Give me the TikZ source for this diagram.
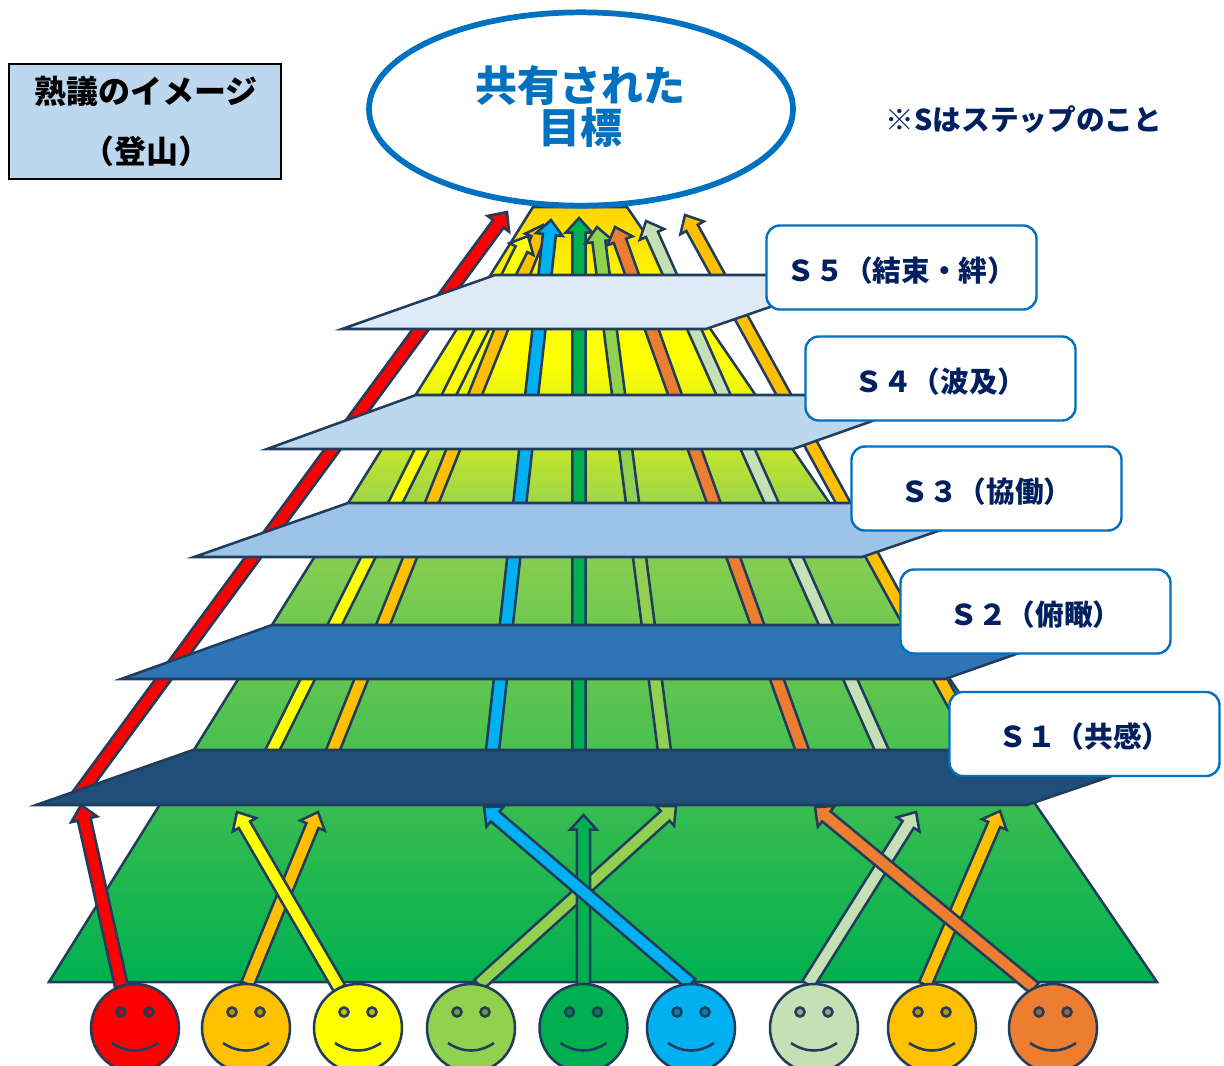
\documentclass[tikz,border=0pt]{standalone}
\usepackage{fontspec}
\usetikzlibrary{calc,shapes.geometric}
\newfontfamily\jp{Noto Sans CJK JP}
\definecolor{cred}{HTML}{FF0000}
\definecolor{cgold}{HTML}{FFC000}
\definecolor{cyel}{HTML}{FFFF00}
\definecolor{clg}{HTML}{92D050}
\definecolor{cdg}{HTML}{00B050}
\definecolor{cblue}{HTML}{00B0F0}
\definecolor{cpale}{HTML}{C5E0B4}
\definecolor{corg}{HTML}{ED7D31}
\definecolor{lc}{HTML}{213D5E}
\definecolor{cbord}{HTML}{0070C0}
\definecolor{cnavy}{HTML}{002060}
\definecolor{mA}{HTML}{00B050}
\definecolor{mB}{HTML}{92D050}
\definecolor{mC}{HTML}{FFFF00}
\definecolor{mD}{HTML}{FFD500}
\definecolor{pA}{HTML}{1F4E79}
\definecolor{pB}{HTML}{2E75B6}
\definecolor{pC}{HTML}{9DC3E6}
\definecolor{pD}{HTML}{BDD7EE}
\definecolor{pE}{HTML}{DEEAF6}
\pgfdeclareverticalshading{mount}{100bp}{color(0bp)=(mA); color(25bp)=(mA); color(54.8bp)=(mB); color(65bp)=(mC); color(69bp)=(mC); color(75bp)=(mD); color(100bp)=(mD)}
\pgfdeclarelayer{front}
\pgfsetlayers{main,front}
\newcommand\blockarrow[6]{%
  \coordinate (bh) at ($(#2)!#6!(#1)$);
  \draw[arrowline,fill=#3] ($(#1)!#4!90:(#2)$) -- ($(bh)!#4!90:(#2)$) -- ($(bh)!#5!90:(#2)$) -- (#2)
    -- ($(bh)!#5!-90:(#2)$) -- ($(bh)!#4!-90:(#2)$) -- ($(#1)!#4!-90:(#2)$) -- cycle;}
\newcommand\uparr[3]{\blockarrow{#1}{#2}{#3}{4.9pt}{10pt}{11pt}}
\newcommand\steptext[1]{\raisebox{-10.2pt}[0pt][0pt]{#1}}
\tikzset{
  arrowline/.style={draw=lc,line width=1.9pt,line join=miter},
  layerbox/.style={draw=lc,line width=1.9pt,line join=miter},
  face/.style={circle,draw=lc,line width=1.9pt,minimum size=66pt,inner sep=0pt,outer sep=0pt},
  stepbox/.style={draw=cbord,line width=1.8pt,fill=white,rounded corners=10pt,minimum width=202.5pt,minimum height=63pt,inner sep=0pt,font=\jp\bfseries\fontsize{21.5}{24}\selectfont,text=cnavy},
}
\begin{document}
\begin{tikzpicture}[x=0.75pt,y=-0.75pt]
\clip (0,0) rectangle (1224,1065);
% mountain
\draw[draw=lc,line width=1.9pt,shading=mount,line join=miter] (49,982) -- (533,207) -- (627,207) -- (1157,982) -- cycle;
% faces
\begin{pgfonlayer}{front}
\foreach \n/\x/\c in {f1/135/cred,f2/246/cgold,f3/358/cyel,f4/471/clg,f5/583.5/cdg,f6/691/cblue,f7/814/cpale,f8/932/cgold,f9/1053/corg}{
  \node[face,fill=\c] (\n) at (\x,1028) {};
  \draw[lc,line width=1.9pt,fill=\c!75!black] (\x-14,1012) circle[radius=3.4pt];
  \draw[lc,line width=1.9pt,fill=\c!75!black] (\x+14,1012) circle[radius=3.4pt];
  \draw[lc,line width=1.9pt] (\x-23,1043) .. controls (\x-8,1053) and (\x+8,1053) .. (\x+23,1043);
}
\end{pgfonlayer}
% lower arrows
\coordinate (t1) at (81,805);
\coordinate (t2) at (318,812);
\coordinate (t3) at (237,812);
\coordinate (t4) at (676,806);
\coordinate (t5) at (583.5,815);
\coordinate (t6) at (484,807);
\coordinate (t7) at (916,812);
\coordinate (t8) at (1000,811);
\coordinate (t9) at (815,807);
\uparr{f1.108}{t1}{cred}
\uparr{f2.88}{t2}{cgold}
\uparr{f3.115}{t3}{cyel}
\uparr{f4.80}{t4}{clg}
\uparr{f5.90}{t5}{cdg}
\uparr{f6.90}{t6}{cblue}
\uparr{f7.98}{t7}{cpale}
\uparr{f8.99}{t8}{cgold}
\uparr{f9.115}{t9}{corg}
% upper arrows
\coordinate (a1) at (74,801);   \coordinate (b1) at (507,212);
\coordinate (a2) at (270,755);  \coordinate (b2) at (528,236);
\coordinate (a3) at (331,755);  \coordinate (b3) at (543,225);
\coordinate (a4) at (492,755);  \coordinate (b4) at (551,220);
\coordinate (a5) at (579,755);  \coordinate (b5) at (579,218);
\coordinate (a6) at (665,755);  \coordinate (b6) at (597,227);
\coordinate (a7) at (804,755);  \coordinate (b7) at (615,227);
\coordinate (a8) at (884,755);  \coordinate (b8) at (646,221);
\coordinate (a9) at (979,750);  \coordinate (b9) at (685,215);
\uparr{a9}{b9}{cgold}
\uparr{a8}{b8}{cpale}
\uparr{a5}{b5}{cdg}
\uparr{a6}{b6}{clg}
\uparr{a7}{b7}{corg}
\uparr{a3}{b3}{cgold}
\uparr{a2}{b2}{cyel}
\uparr{a4}{b4}{cblue}
\uparr{a1}{b1}{cred}
% step planes
\draw[layerbox,fill=pA] (36,805) -- (193,750) -- (1188,750) -- (1027,805) -- cycle;
\draw[layerbox,fill=pB] (121,679) -- (272,625) -- (1099,625) -- (945,679) -- cycle;
\draw[layerbox,fill=pC] (194,557) -- (348,503) -- (1020,503) -- (862,557) -- cycle;
\draw[layerbox,fill=pD] (267,449) -- (416,395) -- (946,395) -- (793,449) -- cycle;
\draw[layerbox,fill=pE] (342,329) -- (495,275) -- (863,275) -- (706,329) -- cycle;
% labels
\node[stepbox] (s5) at (901.5,267.5) {\steptext{Ｓ５（結束・絆）}};
\node[stepbox] (s4) at (940.5,378.5) {\steptext{Ｓ４（波及）}};
\node[stepbox] (s3) at (986.5,488.5) {\steptext{Ｓ３（協働）}};
\node[stepbox] (s2) at (1035.5,611.5) {\steptext{Ｓ２（俯瞰）}};
\node[stepbox] (s1) at (1084.5,734) {\steptext{Ｓ１（共感）}};
% goal
\node[ellipse,draw=cbord,line width=4.3pt,fill=white,minimum width=318pt,minimum height=145pt,inner sep=0pt,outer sep=0pt] (goal) at (581,109) {};
\node[inner sep=0pt,text=cbord,font=\jp\bfseries\fontsize{31.5}{31.5}\selectfont,align=center] (goaltext) at (580,107) {共有された\\目標};
% title
\node[draw=black,line width=1.5pt,fill=pD,minimum width=204pt,minimum height=86pt,inner sep=0pt] (title) at (145,121.5) {};
\node[inner sep=0pt,font=\jp\bfseries\fontsize{24}{24}\selectfont] (t1text) at (146,91) {熟議のイメージ};
\node[inner sep=0pt,font=\jp\bfseries\fontsize{24}{24}\selectfont] (t2text) at (146,151) {（登山）};
% note
\node[inner sep=0pt,text=cnavy,font=\jp\bfseries\fontsize{21.5}{24}\selectfont] (note) at (1024,120) {※Sはステップのこと};
\end{tikzpicture}
\end{document}
